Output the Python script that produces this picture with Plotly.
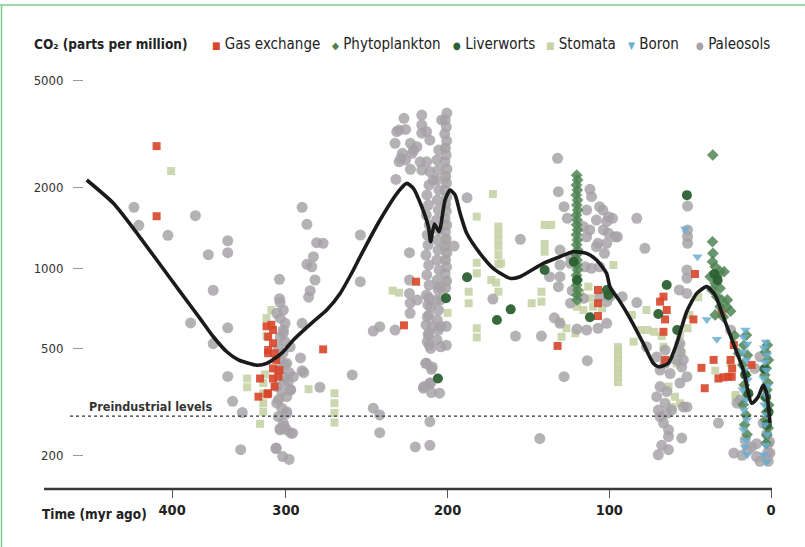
import plotly.graph_objects as go
import numpy as np

# ---------------- data (age in myr ago, CO2 in ppm) ----------------
paleosols = [
 (394,1685),(391,1443),(373,1324),(356,1567),(336,1264),(336,1141),(348,1121),(345,826),(359,624),(336,598),
 (345,522),(336,394),(333,318),(327,289),(328,210),
 (304,907),(304,768),(290,1685),(287,1455),(281,1243),(277,1236),(283,1102),(287,1032),(284,1011),(282,902),
 (285,823),(286,778),(290,622),(291,462),(290,414),(289,407),(279,359),(259,399),(254,1328),(254,889),
 (297,351),(298,407),(301,377),(306,213),(302,198),(298,193),(301,256),(297,242),
 (303.6,745),(301.6,697),(303.6,650),(300.5,622),(301.6,587),(303.6,554),(300.5,531),(304.7,508),(301.9,481),
 (303.6,454),(300.5,435),(304.7,416),(301.6,393),(298.5,377),(305.7,361),(302.5,346),(299.5,331),(305.7,313),
 (302.5,300),(299.5,291),(304.7,279),(301.6,264),(303.6,249),
 (305.7,678),(301.6,571),(297.4,508),(299.5,441),(295.4,393),(297.4,351),(304.7,322),(299.5,287),(303.6,252),
 (299.5,249),(295.8,242),(306.2,212),
 (246,300),(242,283),(242,243),(246,582),(242,604),(232.5,587),(223.6,1141),(223.6,902),(223.6,804),(223.2,739),
 (218.7,760),(223.2,678),(220,215),(211,218),(211,267),(213,441),(210,419),(215,356),(211,372),(210,343),
 (205,341),(188,1830),(196,1208),
 (227,3619),(230,3270),(226,3290),(232.5,2920),(223,2920),(219,2835),(216,3720),(216,3417),(216,3185),(213,3230),
 (211,3000),(228,2680),(222,2680),(230,2490),(226,2530),(217,2490),(213,2490),(223,2335),(216,2320),(211,2290),
 (232,2140),(209,2130),(231.5,3230),(229,2567),(221,2755),(203.7,3570),
 (200.5,3784),(201.5,3570),(200.8,3360),(201.8,3160),(200.6,2980),(201.4,2800),(200.9,2640),(201.7,2490),
 (200.4,2340),(201.2,2200),(200.7,2075),(201.6,1950),(200.5,1840),(201.3,1730),(200.8,1630),(201.7,1535),
 (200.6,1447),(201.4,1363),(200.9,1283),(201.8,1208),(200.5,1138),(201.3,1071),(200.7,1009),(201.6,950),
 (200.6,894),(201.2,843),
 (205.5,2755),(206.6,2530),(205.8,2320),(206.9,2130),(205.4,1954),(206.4,1793),(205.7,1645),(206.8,1510),
 (205.5,1387),(206.3,1272),(205.9,1167),(206.7,1071),(205.3,983),(206.5,902),(205.8,828),(206.9,760),
 (205.6,697),(206.4,640),(205.7,587),(206.6,539),
 (211.5,2040),(212.8,1873),(211.9,1718),(213.2,1577),(211.4,1447),(212.6,1328),(212.1,1218),(213.4,1118),
 (211.7,1026),(212.9,942),(211.5,864),(213.1,793),(212.2,728),(211.6,668),(213.3,613),(212.0,563),(211.4,516),
 (211.6,775),(210.5,717),(212.6,656),(209.5,606),(211.6,571),(212.6,531),(210.5,501),(213.6,441),(209.5,427),
 (210.5,372),(214.7,361),(205.3,852),(204.3,760),(200.8,606),(204.3,606),(200.8,515),(204.3,508),
 (172,766),(158,557),(142,557),(143,231),(155,1280),(132,2567),(131.5,1927),(128,1694),(126,1532),(128,393),
 (113.6,451),(134,652),(112,1966),(111,1846),(106,1694),(114,1645),(108,1510),(101.6,1490),(98,1532),(116,1427),
 (112,1387),(103.7,1387),(100.5,1347),(114,1308),(107,1236),(101.6,1236),(130.5,1167),(124,1102),(108,1201),
 (103,1134),(130.5,1026),(124,1041),(115,1011),(111,997),(106,1011),(137,928),(130.5,928),(131.5,852),(123,823),
 (116,771),(106,782),(124,739),(101.6,749),(99.6,782),(120,592),(114,587),(107,596),(101.6,622),(130.5,622),
 (104,1645),(100.6,1555),(96.5,1308),
 (83,1532),(95,1308),(78,1185),(92,782),(83,743),(51.6,1703),(51.6,1387),(51.6,1308),(51.6,1236),(52,983),
 (52,916),(56.7,828),(52,804),(77,508),(65.5,494),(70.7,466),(65.5,441),(68.6,416),(62.4,404),(58.3,454),
 (55.2,427),(52,393),(56.3,372),(68.6,361),(64.5,346),(70.7,331),(65.5,313),(69.7,295),(64.5,287),(68.6,279),
 (61.4,295),(54.2,303),(52,303),(66.5,264),(63.4,249),(63.4,235),(55.2,232),(67.6,218),(63.4,210),(69.7,201),
 (56.3,523),(56.3,487),(54.2,454),(32.5,264),(23,204),(25,587),(9,198),(6.8,190),(1.7,190),(0.6,204),
 (11.9,215),(8.9,221),(1.7,221),(10,422),(6.8,467),(19,322),(21,313),
 (4.9,264),(2.7,240),(0.9,225),(2,205),(3,195),(16,228),(14.5,210),(18,200),
]

gas_exchange = [
 (380,2850),(380,1560),(312,606),(309,614),(311,554),(308,524),(311,481),(307,481),(306,454),(308,422),
 (304,416),(316,387),(308,387),(311,341),(317,331),(307,361),(308,587),(311,494),(304.7,393),(311.5,338),
 (277,497),(227,611),(219.5,889),(132,512),(107,828),(107,739),(107,662),(66.5,782),(68.6,749),(64.5,697),
 (65.5,643),(66.5,578),(65.5,454),(48,643),(47,950),(43,424),(41,356),(30.5,678),(23,516),(25,454),(24,422),
 (35.5,454),(32.5,387),(29.4,391),(26.3,393),(24.3,393),(12,435),
]

phytoplankton = [
 (120.2,2220),(119.6,2130),(120.3,2040),(119.8,1954),(120.4,1873),(119.7,1793),(120.1,1718),(119.6,1645),
 (120.3,1577),(119.9,1510),(120.2,1450),(119.7,1387),(120.3,1330),(119.8,1272),(120.2,1220),(119.6,1167),
 (120.4,1120),(119.9,1071),(120.1,1026),(119.7,983),(120.3,940),(119.8,902),(120.2,864),(119.6,828),
 (120.1,793),(119.9,760),
 (36,2640),(36.2,1253),(35.9,1134),(36.2,1056),(34.5,1011),(31.5,969),(29,969),(37.6,928),(33.5,928),
 (34.5,877),(31.5,840),(36.5,828),(33.5,782),(30.5,760),(27.4,717),(31.5,717),(34.5,668),(29.4,656),
 (27,760),(25,690),(22.5,560),(20,480),
 (15.2,562),(16.8,515),(14.6,473),(17.5,435),(15.4,399),(16.6,366),(14.3,336),(17.2,309),(15.5,283),
 (16.3,260),(14.8,239),
 (2.2,516),(3.4,486),(1.6,454),(2.9,423),(3.8,399),(1.9,373),(2.6,351),(3.6,328),(1.4,308),(2.8,290),
 (3.3,271),(1.7,253),(2.5,238),(3.1,222),
]

liverworts = [
 (206,387),(201,772),(188,924),(169.5,640),(161,701),(140,983),(122,1056),(120,902),(112,655),(101.5,828),
 (100.5,793),(52,1870),(64.5,864),(69.7,674),(58,587),(35,950),(33,900),
 (16,400),(14,340),(3,330),(1.5,290),(2.5,260),(4,420),
]

stomata = [
 (371,2300),(309,697),(312,650),(312,557),(324,387),(324,359),(313,401),(314,372),(314,341),(314,313),
 (314,291),(316,262),(286,353),(270,341),(270,313),(270,288),(270,265),(303.6,327),
 (234,823),(230,809),
 (201.2,2830),(200.8,2180),(201.5,2130),(200.9,1690),(201.3,1470),(200.7,1272),(201.4,1200),(200.9,1138),
 (201.2,1071),(200.8,902),(203,820),(200,680),
 (182,1555),(172,1888),(168.6,1427),(168.6,1347),(168.6,1272),(168.6,1201),(168.6,1118),(168.6,1035),
 (182,1046),(182,956),(173,902),(170,882),(168.6,816),(187,816),(187,739),(182,596),(182,551),
 (140,1447),(136,1447),(140,1229),(140,1150),(142,816),(142,749),(148,739),(167,1041),
 (113,852),(118,804),(112,771),(120,717),(116,697),(130.5,630),(126.5,596),(121,571),(129.5,554),(110,717),
 (104.5,708),(97.5,1026),
 (94.6,507),(94.6,490),(94.6,472),(94.6,455),(94.6,438),(94.6,421),(94.6,405),(94.6,390),(94.6,375),
 (86,668),(77,697),(80.4,587),(76.3,587),(72.2,578),(85,531),(67.6,557),(66.5,508),(56.3,562),(50.5,668),
 (51.6,596),(56.3,512),(55.2,481),(61.4,454),(58.3,441),(63.4,361),(59.4,331),(61.4,303),(56.3,313),
 (45,778),(34.5,414),(22,331),(25,441),(21.8,336),(16.1,351),(2.7,336),
]

boron = [
 (53,1397),(45.5,1102),(39.7,643),(33.5,542),
 (15.8,587),(16.9,552),(14.7,520),(17.3,486),(15.2,454),(16.4,416),(14.5,382),(17.6,351),(15.6,322),
 (16.8,295),(14.9,271),(17.1,249),(15.4,228),(16.2,215),(14.8,201),
 (3.2,530),(4.3,503),(2.4,474),(3.8,446),(2.9,416),(4.6,387),(2.1,363),(3.5,336),(4.1,309),(2.6,284),
 (3.9,260),(2.3,239),(3.4,218),(4.4,201),(2.8,189),
]

curve = [
 (423.2,2130),(406.7,1744),(394.4,1406),(379.9,1071),(365.5,816),(353.2,649),(344.9,554),(336.6,487),
 (329.4,454),(318.1,434),(311.9,441),(302.6,481),(295.4,539),(283.1,631),(274.8,697),(266.5,804),
 (258.3,983),(254.1,1102),(241.8,1510),(230.5,1927),(225.3,2070),(221.2,1983),(216.0,1693),(211.9,1427),
 (210.5,1253),(208.2,1460),(205.3,1366),(201.6,1793),(198.5,1954),(195.4,1873),(192.3,1601),(188.2,1347),
 (180.0,1134),(171.8,997),(161.4,915),(155.2,928),(140.8,1041),(130.5,1102),(122.3,1150),(114.0,1134),
 (107.9,1071),(101.7,955),(99.6,852),(93.4,749),(87.2,649),(79.0,523),(72.8,441),(69.7,428),(63.5,441),
 (58.3,523),(52.1,688),(45.9,804),(39.8,852),(34.6,793),(29.5,658),(23.3,523),(17.1,416),(11.9,313),
 (7.9,331),(4.8,366),(2.7,341),(0.6,264),
]

preindustrial_ppm = 280
y_ticks = [200, 500, 1000, 2000, 5000]
x_tick_labels = ["400", "300", "200", "100", "0"]
x_tick_ages = [370.4, 300, 200, 100, 0]

# ---------------- figure ----------------
FONT = "DejaVu Sans Condensed, Liberation Sans, sans-serif"

def xy(pairs):
    a, b = zip(*pairs)
    return list(a), list(b)

fig = go.Figure()

series = [
    ("Stomata", stomata, dict(symbol="square", size=8, color="#c6d3a6", opacity=0.9)),
    ("Paleosols", paleosols, dict(symbol="circle", size=11, color="#a5a1a6", opacity=0.82)),
    ("Gas exchange", gas_exchange, dict(symbol="square", size=8, color="#d7462a", opacity=0.9)),
    ("Phytoplankton", phytoplankton, dict(symbol="diamond", size=9, color="#4f8452", opacity=0.85)),
    ("Liverworts", liverworts, dict(symbol="circle", size=10, color="#2d6134", opacity=0.95)),
    ("Boron", boron, dict(symbol="triangle-down", size=9, color="#6aaed2", opacity=0.85)),
]
for name, data, st in series:
    xs, ys = xy(data)
    fig.add_trace(go.Scatter(
        x=xs, y=ys, mode="markers", name=name, showlegend=False,
        marker=dict(symbol=st["symbol"], size=st["size"], color=st["color"],
                    opacity=st["opacity"], line=dict(width=0)),
        cliponaxis=False, hoverinfo="skip"))

cx, cy = xy(curve)
fig.add_trace(go.Scatter(x=cx, y=cy, mode="lines", showlegend=False,
                         line=dict(color="#1b1b1b", width=3.6, shape="spline", smoothing=0.6),
                         hoverinfo="skip"))

L, R, T, B = 84, 33, 62, 58
W, H = 805, 547
pw, ph = W - L - R, H - T - B

def px_x(p):
    return (p - L) / pw

def px_y(p):
    return (H - B - p) / ph

fig.update_layout(
    width=W, height=H,
    margin=dict(l=L, r=R, t=T, b=B),
    paper_bgcolor="white", plot_bgcolor="white",
    font=dict(family=FONT, color="#222"),
    xaxis=dict(range=[424.9, -0.62], showgrid=False, zeroline=False, showline=False,
               tickvals=x_tick_ages, ticktext=x_tick_labels, ticks="outside", ticklen=8,
               tickwidth=1.3, tickcolor="#555",
               tickfont=dict(family=FONT, size=14.5, color="#222", weight="bold")),
    yaxis=dict(type="log", range=[2.1754, 3.7687], showgrid=False, zeroline=False, showline=False,
               tickvals=y_ticks, ticktext=[str(v) for v in y_ticks], ticks="outside", ticklen=10,
               tickwidth=1.3, tickcolor="#9a9a9a", ticklabelstandoff=7,
               tickfont=dict(family=FONT, size=13, color="#333")),
    showlegend=False,
)

shapes = [
    dict(type="line", xref="paper", yref="paper", x0=px_x(44), x1=px_x(772), y0=0, y1=0,
         line=dict(color="#3a3a3a", width=2.6)),
    dict(type="line", xref="paper", yref="y", x0=px_x(70), x1=px_x(771),
         y0=preindustrial_ppm, y1=preindustrial_ppm,
         line=dict(color="#333", width=1.4, dash="dot")),
    dict(type="line", xref="paper", yref="paper", x0=px_x(1.5), x1=px_x(1.5), y0=px_y(5), y1=px_y(547),
         line=dict(color="#7ccb8a", width=1.5)),
    dict(type="line", xref="paper", yref="paper", x0=px_x(0), x1=px_x(805), y0=px_y(5), y1=px_y(5),
         line=dict(color="#7ccb8a", width=1.5)),
]
fig.update_layout(shapes=shapes)

ann = []
ann.append(dict(text="<b>CO₂ (parts per million)</b>", x=px_x(32), y=px_y(44), xref="paper", yref="paper",
                xanchor="left", yanchor="middle", showarrow=False,
                font=dict(family=FONT, size=13.5, color="#222")))
legend_items = [
    (210, "■", "#d7462a", "Gas exchange"),
    (330, "◆", "#4f8452", "Phytoplankton"),
    (451, "●", "#2d6134", "Liverworts"),
    (544, "■", "#c6d3a6", "Stomata"),
    (626, "▼", "#6aaed2", "Boron"),
    (694, "●", "#a5a1a6", "Paleosols"),
]
for px, sym, col, label in legend_items:
    ann.append(dict(text=f'<span style="color:{col};font-size:10px">{sym}</span> {label}',
                    x=px_x(px), y=px_y(44), xref="paper", yref="paper",
                    xanchor="left", yanchor="middle", showarrow=False,
                    font=dict(family=FONT, size=15, color="#222")))
ann.append(dict(text="<b>Time (myr ago)</b>", x=px_x(40), y=px_y(514), xref="paper", yref="paper",
                xanchor="left", yanchor="middle", showarrow=False,
                font=dict(family=FONT, size=13.5, color="#222")))
ann.append(dict(text="<b>Preindustrial levels</b>", x=px_x(87), y=np.log10(305), xref="paper", yref="y",
                xanchor="left", yanchor="middle", showarrow=False,
                font=dict(family=FONT, size=12.5, color="#333")))
fig.update_layout(annotations=ann)

fig.write_html("out.html", config={"displayModeBar": False},
               post_script="document.body.style.margin='0';document.body.style.overflow='hidden';")
